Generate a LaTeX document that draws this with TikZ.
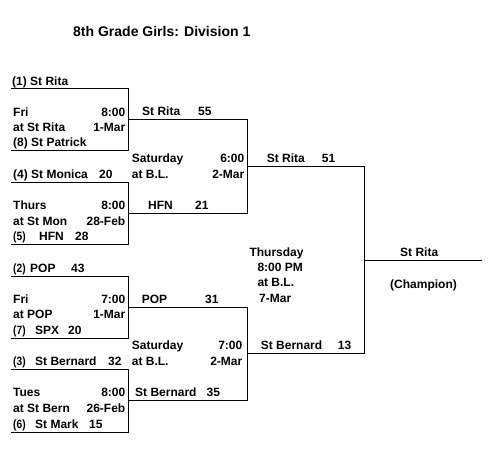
\documentclass[tikz,border=0pt]{standalone}
\usepackage{fontspec}
\usepackage{graphicx}
\setmainfont{Liberation Sans}
\newcommand{\nseed}[1]{\scalebox{0.85}[1]{#1}}
\begin{document}
\begin{tikzpicture}[x=1pt,y=-1pt,
  lbl/.style={anchor=base west,inner sep=0pt,font=\fontsize{12}{14}\selectfont\bfseries},
  rlbl/.style={anchor=base east,inner sep=0pt,font=\fontsize{12}{14}\selectfont\bfseries},
  brk/.style={draw=black,line width=1pt}]
\useasboundingbox (0,0) rectangle (500,451);
% title
\node[anchor=base west,inner sep=0pt,font=\fontsize{14}{17}\selectfont\bfseries] (title) at (73,36) {8th Grade Girls: Division 1};
% bracket coordinates
\coordinate (a1) at (11,88);  \coordinate (a1r) at (128,88);
\coordinate (a8) at (11,150); \coordinate (a8r) at (128,150);
\coordinate (a4) at (11,182); \coordinate (a4r) at (128,182);
\coordinate (a5) at (11,244); \coordinate (a5r) at (128,244);
\coordinate (a2) at (11,276); \coordinate (a2r) at (128,276);
\coordinate (a7) at (11,338); \coordinate (a7r) at (128,338);
\coordinate (a3) at (11,369); \coordinate (a3r) at (128,369);
\coordinate (a6) at (11,432); \coordinate (a6r) at (128,432);
\coordinate (m1) at (128,119); \coordinate (m1r) at (247,119);
\coordinate (m2) at (128,213); \coordinate (m2r) at (247,213);
\coordinate (m3) at (128,307); \coordinate (m3r) at (247,307);
\coordinate (m4) at (128,400); \coordinate (m4r) at (247,400);
\coordinate (s1) at (247,166); \coordinate (s1r) at (364,166);
\coordinate (s2) at (247,353); \coordinate (s2r) at (364,353);
\coordinate (f) at (364,260);  \coordinate (fr) at (482,260);
% round 1 boxes
\draw[brk] (a1) -- (a1r) -- (a8r) -- (a8);
\draw[brk] (a4) -- (a4r) -- (a5r) -- (a5);
\draw[brk] (a2) -- (a2r) -- (a7r) -- (a7);
\draw[brk] (a3) -- (a3r) -- (a6r) -- (a6);
% round 2
\draw[brk] (m1) -- (m1r) -- (m2r) -- (m2);
\draw[brk] (m3) -- (m3r) -- (m4r) -- (m4);
% semifinal
\draw[brk] (s1) -- (s1r) -- (s2r) -- (s2);
% final
\draw[brk] (f) -- (fr);
% box 1 text
\node[lbl] (t1) at (12,85) {(1) St Rita};
\node[lbl] (d1) at (13,116.5) {Fri};
\node[rlbl] (h1) at (125.5,116.5) {8:00};
\node[lbl] (v1) at (13,131.5) {at St Rita};
\node[rlbl] (dt1) at (125.5,131.5) {1-Mar};
\node[lbl] (t8) at (13,146) {(8) St Patrick};
% box 2 text
\node[lbl] (t4) at (13,178.5) {(4) St Monica};
\node[lbl] (t4s) at (99,178.5) {20};
\node[lbl] (d2) at (13,209.5) {Thurs};
\node[rlbl] (h2) at (125.5,209.5) {8:00};
\node[lbl] (v2) at (13,225) {at St Mon};
\node[rlbl] (dt2) at (125.5,225) {28-Feb};
\node[lbl] (t5n) at (13,240.5) {\nseed{(5)}};
\node[lbl] (t5) at (39,240.5) {HFN};
\node[lbl] (t5s) at (75,240.5) {28};
% box 3 text
\node[lbl] (t2n) at (13,272) {\nseed{(2)}};
\node[lbl] (t2) at (30,272) {POP};
\node[lbl] (t2s) at (71,272) {43};
\node[lbl] (d3) at (13,303.5) {Fri};
\node[rlbl] (h3) at (125.5,303.5) {7:00};
\node[lbl] (v3) at (13,318.5) {at POP};
\node[rlbl] (dt3) at (125.5,318.5) {1-Mar};
\node[lbl] (t7n) at (13,334.3) {\nseed{(7)}};
\node[lbl] (t7) at (35,334.3) {SPX};
\node[lbl] (t7s) at (68,334.3) {20};
% box 4 text
\node[lbl] (t3n) at (13,365.5) {\nseed{(3)}};
\node[lbl] (t3) at (35,365.5) {St Bernard};
\node[lbl] (t3s) at (108,365.5) {32};
\node[lbl] (d4) at (13,396.7) {Tues};
\node[rlbl] (h4) at (125.5,396.7) {8:00};
\node[lbl] (v4) at (13,412) {at St Bern};
\node[rlbl] (dt4) at (125.5,412) {26-Feb};
\node[lbl] (t6n) at (13,428.3) {\nseed{(6)}};
\node[lbl] (t6) at (35,428.3) {St Mark};
\node[lbl] (t6s) at (89,428.3) {15};
% round 2 text
\node[lbl] (w1) at (142,115.5) {St Rita};
\node[lbl] (w1s) at (198,115.5) {55};
\node[lbl] (r2d1) at (131.7,162.5) {Saturday};
\node[rlbl] (r2h1) at (244.5,162.5) {6:00};
\node[lbl] (r2v1) at (131.7,178) {at B.L.};
\node[rlbl] (r2dt1) at (244.5,178) {2-Mar};
\node[lbl] (w2) at (148,209.5) {HFN};
\node[lbl] (w2s) at (195,209.5) {21};
\node[lbl] (w3) at (141.7,303.5) {POP};
\node[lbl] (w3s) at (205,303.5) {31};
\node[lbl] (r2d2) at (131.7,349.5) {Saturday};
\node[rlbl] (r2h2) at (242.5,349.5) {7:00};
\node[lbl] (r2v2) at (131.7,365.5) {at B.L.};
\node[rlbl] (r2dt2) at (242.5,365.5) {2-Mar};
\node[lbl] (w4) at (135,396.5) {St Bernard};
\node[lbl] (w4s) at (206.5,396.5) {35};
% semifinal text
\node[lbl] (x1) at (266.7,162.5) {St Rita};
\node[lbl] (x1s) at (321.7,162.5) {51};
\node[lbl] (fd) at (249.3,256.7) {Thursday};
\node[lbl] (fh) at (257.3,271.7) {8:00 PM};
\node[lbl] (fv) at (257.3,286.7) {at B.L.};
\node[lbl] (fdt) at (259,302.7) {7-Mar};
\node[lbl] (x2) at (260.7,349.5) {St Bernard};
\node[lbl] (x2s) at (337.7,349.5) {13};
% champion
\node[lbl] (ch) at (400,256.7) {St Rita};
\node[lbl] (chl) at (390,288.3) {(Champion)};
\end{tikzpicture}
\end{document}
